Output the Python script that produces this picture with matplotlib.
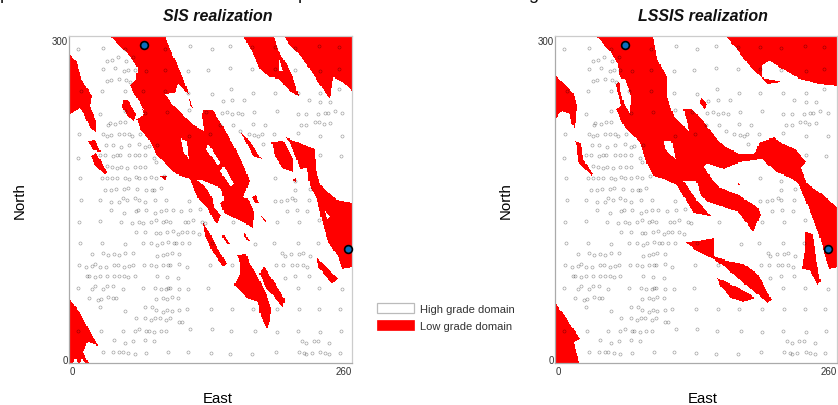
import numpy as np
import matplotlib
matplotlib.use("Agg")
import matplotlib.pyplot as plt
from matplotlib.colors import ListedColormap
from matplotlib.patches import Patch
from matplotlib.path import Path

plt.rcParams['font.family'] = ['Liberation Sans', 'DejaVu Sans']

# drill hole collars, (east, north)
samples = [
(8,288),(31,289),(51,288),(88,288),(111,291),(131,288),(148,291),(168,290),(189,290),(208,289),(230,291),(248,290),
(35,277),(39,278),(45,281),(52,277),(59,281),
(31,270),(42,271),(50,268),(54,269),(60,269),(71,268),(88,269),(109,268),(128,269),(148,271),(168,270),(189,270),(208,269),(231,268),(248,270),
(35,259),(38,260),(46,261),(52,260),(56,258),
(11,250),(30,250),(51,250),(68,250),(88,250),(109,248),(131,247),(149,251),(169,248),(189,248),(210,248),(231,248),(248,251),
(141,240),(150,241),(161,241),(220,241),(231,239),(240,239),
(28,228),(51,231),(70,229),(90,230),(110,232),(126,230),(140,229),(145,230),(150,228),(155,229),(159,228),(170,230),(191,231),(210,228),(218,228),(229,228),(235,229),(238,229),(244,231),(251,229),
(36,218),(37,220),(42,219),(47,221),(51,221),(139,218),(151,218),(169,219),(180,218),(213,218),(218,218),(226,221),(230,221),(234,219),(240,220),
(9,210),(31,210),(35,208),(38,209),(46,210),(50,210),(55,210),(58,208),(65,210),(110,208),(129,210),(157,213),(165,210),(170,209),(174,208),(177,210),(188,210),(210,211),(231,208),(251,208),
(34,200),(40,200),(48,198),(55,200),(64,201),(70,198),(73,199),(81,200),(178,201),
(8,188),(28,191),(33,191),(40,190),(44,191),(47,191),(55,191),(60,191),(64,191),(70,191),(78,188),(250,190),(231,191),
(35,181),(39,180),(44,179),(48,180),(53,179),(60,180),(65,180),(70,180),(80,184),
(10,170),(30,170),(35,170),(39,170),(44,170),(51,170),(55,169),(61,171),(64,170),(70,170),(75,171),(80,170),(87,172),(189,170),(208,167),
(33,159),(38,159),(43,160),(50,160),(54,161),(62,160),(71,159),(76,159),(78,159),(84,161),(208,159),(221,160),
(11,150),(28,150),(38,148),(46,148),(49,151),(53,150),(60,151),(64,150),(70,148),(79,150),(89,150),(110,149),(189,149),(195,149),(200,150),(205,151),(208,150),(220,150),
(38,140),(50,138),(61,139),(63,140),(71,140),(79,138),(84,139),(89,140),(95,140),(103,139),(111,140),(120,141),(200,139),(209,140),(219,139),
(9,129),(28,130),(48,129),(58,128),(64,129),(68,128),(75,129),(80,131),(86,129),(89,130),(93,129),(106,129),(109,129),(114,131),(122,129),(125,128),(151,129),(191,129),(211,129),(230,131),
(61,120),(70,120),(80,119),(83,119),(90,120),(95,121),(100,118),(104,120),(108,120),(114,120),(119,118),
(10,110),(30,110),(51,109),(68,110),(75,110),(81,108),(85,110),(91,111),(96,110),(98,110),(104,110),(110,110),(131,110),(171,109),(188,110),(210,110),(229,110),
(21,100),(31,101),(36,99),(41,100),(46,99),(51,101),(59,101),(81,98),(86,99),(90,100),(94,101),(101,100),(196,101),(198,98),(204,100),(211,100),(215,101),(221,98),
(9,90),(15,88),(21,89),(24,91),(28,88),(34,88),(41,90),(45,90),(50,88),(55,89),(59,90),(69,90),(75,90),(80,89),(86,90),(91,90),(93,90),(101,91),(108,88),(129,90),(150,90),(190,90),(197,90),(205,90),(209,90),(215,90),(219,88),
(16,80),(18,80),(24,79),(28,80),(35,80),(41,80),(46,80),(50,80),(54,79),(60,80),(81,80),(90,79),(100,78),(198,78),(208,80),(220,80),
(8,69),(21,68),(24,71),(31,68),(35,71),(40,71),(49,68),(68,69),(79,69),(84,68),(89,68),(91,69),(93,69),(101,68),(109,68),(128,69),(210,69),(230,69),(251,68),
(18,60),(26,58),(29,59),(36,61),(40,60),(43,60),(80,59),(86,60),(90,59),(94,61),(100,60),
(28,51),(51,48),(70,51),(76,51),(80,49),(86,47),(90,49),(94,48),(101,49),(108,50),(130,50),(150,50),(169,50),(191,50),(211,50),(230,50),(249,50),
(61,41),(70,41),(75,39),(79,41),(83,41),(89,39),(93,41),(101,38),(104,38),
(8,29),(29,29),(49,29),(60,29),(64,31),(71,29),(73,29),(78,28),(84,29),(89,29),(111,31),(131,31),(149,29),(171,29),(191,28),(210,29),(231,28),(250,29),
(41,21),(51,18),(59,20),(70,21),(78,20),(214,20),(218,18),(225,20),(229,20),(239,18),
(31,10),(40,10),(46,10),(49,10),(54,9),(60,8),(71,9),(91,10),(109,10),(130,9),(148,8),(168,8),(190,10),(211,10),(216,9),(218,8),(223,9),(231,10),(235,9),(239,8),(249,9),
]

sis_main = [(37,300),(88,300),(93,288),(105,261),(110,247),(100,256),(97,248),(88,247),(96,236),(105,228),(113,219),(124,213),(122,227),(123,232),(132,232),(139,221),(151,200),(161,180),(166,167),(160,152),(165,150),(170,138),(169,124),(162,128),(142,138),(139,147),(142,150),(140,160),(122,168),(117,168),(127,160),(132,150),(133,143),(140,136),(136,127),(134,129),(128,141),(119,150),(111,169),(99,173),(87,184),(80,192),(74,204),(65,215),(62,224),(69,228),(65,239),(60,247),(56,255),(62,261),(63,271),(57,280),(50,288)]
sis_patches = [
[(160,300),(169,284),(176,269),(185,262),(193,261),(201,251),(211,245),(206,262),(200,274),(192,287),(188,300)],
[(197,300),(260,300),(260,249),(251,258),(243,262),(240,242),(232,253),(223,267),(214,280),(203,291)],
[(0,285),(7,276),(11,261),(21,245),(19,236),(25,222),(25,212),(19,216),(14,228),(10,234),(0,227)],
[(17,204),(24,205),(29,194),(22,195)],
[(20,190),(25,193),(35,175),(33,172),(24,181)],
[(50,241),(54,241),(62,228),(60,222),(53,227),(49,235)],
[(110,243),(114,234),(111,236)],
[(156,214),(165,205),(177,187),(169,190),(162,204)],
[(186,203),(197,204),(206,187),(206,175),(197,178),(189,190)],
[(199,207),(212,202),(226,196),(227,178),(231,163),(246,150),(260,147),(260,88),(251,86),(247,98),(238,111),(232,132),(228,150),(221,163),(219,179),(212,178),(208,190),(203,202)],
[(205,168),(209,170),(209,166)],
[(168,152),(172,154),(175,147),(171,147)],
[(83,172),(90,172),(88,167)],
[(123,129),(129,120),(135,108),(145,91),(142,88),(132,102),(125,117)],
[(176,135),(182,130),(180,129)],
[(142,118),(148,109),(145,109),(141,116)],
[(161,120),(166,112),(164,112),(161,117)],
[(154,99),(163,100),(166,91),(172,82),(182,62),(186,50),(185,39),(182,31),(176,43),(174,56),(163,60),(152,72),(157,82),(157,92)],
[(179,89),(188,75),(198,59),(197,50),(189,60),(181,69),(175,82)],
[(228,96),(237,88),(247,77),(242,72),(229,88)],
[(0,60),(10,46),(18,31),(27,16),(17,19),(13,10),(18,0),(0,0)],
]
sis_holes = [
[(103,206),(108,204),(110,186),(105,195)],
[(63,242),(69,232),(65,235)],
[(128,201),(139,184),(137,181),(126,196)],
[(142,181),(152,164),(149,161),(139,176)],
[(193,279),(197,268),(193,268)],
[(235,140),(240,134),(237,132)],
[(4,0),(6,6),(8,0)],
[(10,0),(12,5),(15,0)],
]

lssis_main = [(38,300),(90,300),(94,279),(103,262),(103,245),(109,227),(117,219),(123,212),(122,218),(118,233),(126,233),(137,221),(146,209),(155,199),(169,192),(183,192),(186,197),(187,202),(201,207),(210,201),(221,196),(231,184),(226,179),(232,164),(244,156),(255,147),(260,141),(260,88),(252,86),(248,98),(243,117),(237,132),(230,150),(224,163),(218,169),(204,175),(190,187),(169,184),(155,178),(140,183),(137,180),(144,169),(152,161),(169,154),(186,143),(189,136),(182,120),(169,138),(141,148),(134,153),(130,167),(118,167),(130,150),(143,135),(127,138),(120,150),(112,163),(100,169),(90,172),(84,184),(78,202),(63,218),(56,233),(61,236),(56,255),(60,260),(58,274),(51,285)]
lssis_patches = [
[(157,300),(260,300),(260,254),(243,256),(224,261),(209,270),(197,277),(190,273),(190,262),(209,258),(195,256),(189,262),(176,276),(167,288)],
[(0,265),(9,256),(17,247),(20,236),(18,215),(15,220),(14,228),(6,231),(0,223)],
[(18,204),(24,202),(26,187),(35,173),(34,172),(21,184),(20,198)],
[(134,244),(140,238),(138,232),(133,239)],
[(168,166),(170,163),(168,163)],
[(119,111),(132,112),(146,115),(146,98),(158,94),(173,91),(186,82),(199,58),(196,55),(186,63),(169,77),(155,89),(146,95),(132,102)],
[(149,78),(169,69),(184,60),(173,56),(161,60),(152,71)],
[(230,120),(237,118),(240,96),(244,74),(241,72),(234,85),(227,86),(230,104)],
[(0,56),(9,43),(23,22),(17,19),(22,0),(0,0)],
]
lssis_holes = [
[(59,262),(64,261),(70,245),(69,228),(63,239),(60,251)],
[(100,204),(107,204),(111,186),(101,196)],
]

sis_wells = [(69,292),(256,104.6)]
lssis_wells = [(64,292),(251,104.6)]
titles = ["SIS realization","LSSIS realization"]

W = 838; H = 406

def grid_mask(polys,holes):
    # the realizations are grids, so turn the outlines into 1x1 cells
    ex,no = np.meshgrid(np.arange(260)+0.5,np.arange(300)+0.5)
    pts = np.column_stack([ex.ravel(),no.ravel()])
    m = np.zeros(len(pts),dtype=bool)
    for poly in polys:
        m |= Path(poly).contains_points(pts)
    for poly in holes:
        m &= ~Path(poly).contains_points(pts)
    return m.reshape(ex.shape).astype(int)

def panel(left,right,main,patches,holes,wells,title):
    ax = fig.add_axes([left/W,(H-364)/H,(right-left)/W,327/H])
    ax.imshow(grid_mask([main]+patches,holes),origin="lower",extent=(0,260,0,300),aspect="auto",
              cmap=ListedColormap(["white","#ff0000"]),interpolation="nearest",zorder=1)
    ax.plot(*zip(*samples),ls="none",marker="o",ms=2.2,mfc="none",mec=(0,0,0,0.4),mew=0.45,zorder=3)
    ax.plot(*zip(*wells),ls="none",marker="o",ms=5.6,mfc="#0a6fbd",mec="black",mew=1.2,zorder=4,clip_on=False)
    ax.set_xlim(0,260); ax.set_ylim(0,300)
    ax.set_xticks([0,260]); ax.set_yticks([0,300])
    ax.tick_params(length=0,labelsize=7,labelcolor="#333333")
    ax.tick_params(axis="x",pad=2)
    ax.tick_params(axis="y",pad=1)
    ax.get_xticklabels()[0].set_ha("left")
    ax.get_xticklabels()[1].set_ha("right")
    ax.get_yticklabels()[0].set_va("baseline")
    ax.get_yticklabels()[1].set_va("top")
    for s in ax.spines.values():
        s.set_color("#aaaaaa"); s.set_linewidth(0.9)
    ax.spines["top"].set_color("#cccccc"); ax.spines["right"].set_color("#cccccc")
    ax.set_xlabel("East",fontsize=10.8,labelpad=11,x=0.524)
    ax.set_ylabel("North",fontsize=10.8,labelpad=18,y=0.5)
    ax.set_title(title,fontsize=11.5,fontweight="bold",fontstyle="italic",pad=11.5,color="#111111",x=0.525)
    return ax

fig = plt.figure(figsize=(W/100,H/100),dpi=100)
panel(69.3,352,sis_main,sis_patches,sis_holes,sis_wells,titles[0])
panel(555.3,837.3,lssis_main,lssis_patches,lssis_holes,lssis_wells,titles[1])

handles = [Patch(fc="white",ec="#bbbbbb",lw=0.9,label="High grade domain"),
           Patch(fc="#ff0000",ec="#ff0000",lw=0.5,label="Low grade domain")]
fig.legend(handles=handles,loc="upper left",bbox_to_anchor=(374/W,1-301/H),frameon=False,fontsize=8,
           labelcolor="#333333",handlelength=3.3,handleheight=1.0,labelspacing=0.55,handletextpad=0.55,borderpad=0.3,borderaxespad=0)

# line of text cut off by the top edge in the source
for x,c in [(5,"p"),(303,"p"),(533,"g")]:
    fig.text(x/W,1+1/H,c,fontsize=13,ha="center",va="baseline",color="#111111")

fig.savefig("out.png",dpi=100)
